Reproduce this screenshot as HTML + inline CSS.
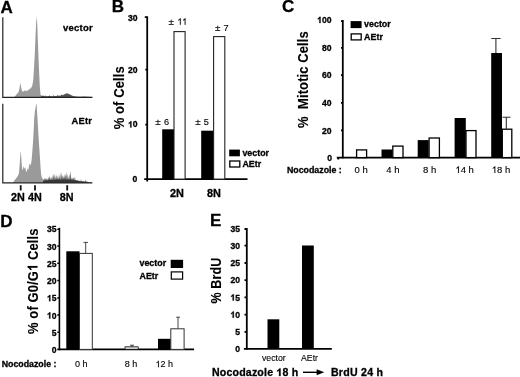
<!DOCTYPE html>
<html><head><meta charset="utf-8">
<style>
html,body{margin:0;padding:0;background:#fff;}
text{stroke:#000;stroke-width:0.3px;fill:#000;}
body{width:520px;height:377px;overflow:hidden;}
svg{display:block;font-family:"Liberation Sans",sans-serif;filter:blur(0.35px);}
.b{font-weight:bold;}
.h{fill:none;stroke:none;}
.pl{font-weight:bold;font-size:17px;}
.ax{font-weight:bold;font-size:8.6px;}
.yl{font-weight:bold;font-size:13px;stroke-width:0.1px;letter-spacing:0.1px;}
.lg{font-weight:bold;font-size:8.9px;}
.r{font-size:9px;}
.r text,.rr text{stroke-width:0.12px;}
</style></head><body>
<svg width="520" height="377" viewBox="0 0 520 377">
<rect width="520" height="377" fill="#fff"></rect>

<!-- Panel A -->
<text class="pl" x="0.5" y="12.5">A</text>
<path d="M14.0,97.3 L14.0,97.3 L15.5,95.8 L17.0,93.7 L18.5,92.2 L19.5,88.6 L20.3,82.5 L21.0,86.6 L22.0,91.2 L23.5,91.5 L25.0,90.4 L27.0,90.9 L29.0,89.4 L31.0,88.1 L32.2,86.0 L33.2,80.4 L34.0,68.2 L34.8,53.8 L35.5,36.4 L36.1,23.2 L36.7,16.3 L37.3,25.2 L37.9,41.6 L38.5,57.9 L39.2,74.3 L39.9,87.6 L40.4,93.7 L41.0,95.4 L43.5,95.8 L43.5,97.3 Z" fill="#9a9a9a"></path>
<path d="M41.0,97.3 L41.0,96.0 L43.5,95.8 L45.0,96.2 L45.6,95.3 L46.2,96.2 L49.0,96.1 L49.6,95.2 L50.2,96.1 L53.0,96.2 L53.6,95.0 L54.2,96.1 L57.0,96.0 L57.6,94.7 L58.2,95.8 L61.0,95.6 L61.6,94.3 L62.4,95.3 L63.5,94.7 L65.0,94.0 L67.0,93.3 L69.0,93.9 L71.0,95.0 L73.0,96.0 L76.0,96.4 L80.0,96.7 L84.0,96.5 L88.0,96.7 L92.0,97.0 L92.0,97.3 Z" fill="#555"></path>
<path d="M2.8,17.2 V97.4 H92.5" fill="none" stroke="#222" stroke-width="1.2"></path>
<text class="b" x="63.1" y="30.6" font-size="9.5" style="letter-spacing:0.2px">vector</text>
<path d="M13.0,182.7 L13.0,182.7 L14.5,180.2 L16.0,178.6 L17.5,176.6 L18.8,174.1 L19.6,165.9 L20.3,155.8 L20.8,150.7 L21.3,157.8 L22.0,168.0 L22.8,170.5 L23.6,165.9 L24.4,169.0 L25.2,167.0 L26.0,171.0 L26.8,172.0 L27.6,168.0 L28.4,170.0 L29.2,164.9 L30.0,162.9 L30.8,165.9 L31.6,159.9 L32.3,151.7 L33.0,142.6 L33.7,129.4 L34.3,117.2 L34.9,111.1 L35.4,109.1 L35.9,105.0 L36.3,103.2 L36.8,107.1 L37.4,117.2 L38.0,127.4 L38.6,137.5 L39.2,146.7 L39.9,156.8 L40.6,168.0 L41.2,175.1 L42.0,178.1 L43.5,179.7 L43.5,182.7 Z" fill="#9a9a9a"></path>
<path d="M43.5,182.7 L43.5,179.7 L44.2,178.0 L44.9,180.0 L45.6,178.0 L46.2,180.3 L46.9,177.9 L47.7,180.3 L48.3,177.0 L49.0,179.7 L49.6,175.6 L50.3,179.8 L51.1,176.9 L51.6,179.9 L52.1,174.6 L52.7,180.3 L53.4,173.8 L54.1,179.4 L54.9,173.6 L55.6,179.8 L56.2,174.6 L57.0,179.4 L57.8,176.0 L58.3,180.0 L58.9,175.1 L59.5,178.9 L60.1,172.2 L60.9,180.4 L61.5,172.3 L62.1,178.6 L62.8,175.0 L63.5,179.0 L64.1,174.1 L64.7,178.3 L65.5,173.9 L66.1,180.1 L66.6,171.3 L67.1,179.2 L67.8,173.7 L68.5,180.1 L69.3,173.9 L69.9,179.9 L70.5,170.6 L71.3,179.7 L72.1,177.2 L72.7,179.7 L73.5,177.3 L74.3,180.2 L74.9,176.4 L75.5,180.1 L77.0,180.2 L80.6,181.0 L81.0,178.9 L81.4,181.1 L85.2,181.4 L85.6,179.0 L86.0,181.5 L88.0,181.8 L88.0,182.7 Z" fill="#6a6a6a"></path>
<path d="M43.0,182.7 L43.0,180.8 L46.0,180.4 L50.0,180.1 L55.0,179.8 L60.0,179.6 L65.0,179.4 L70.0,179.6 L74.0,180.2 L77.0,180.8 L80.0,181.4 L84.0,181.7 L88.0,182.0 L92.5,182.4 L92.5,182.7 Z" fill="#383838"></path>
<path d="M2.8,103.8 V182.8 H92.3" fill="none" stroke="#222" stroke-width="1.2"></path>
<text class="b" x="71.4" y="124.4" font-size="9.3" style="letter-spacing:0.3px">AEtr</text>
<g stroke="#111" stroke-width="1.8">
<line x1="20.7" y1="185.2" x2="20.7" y2="190.5"></line>
<line x1="35" y1="185.2" x2="35" y2="190.5"></line>
<line x1="67.2" y1="185.2" x2="67.2" y2="190.5"></line>
</g>
<text class="b" font-size="10.8" x="10.9" y="200.8">2N</text>
<text class="b" font-size="10.8" x="28.1" y="200.8">4N</text>
<text class="b" font-size="10.8" x="59.8" y="200.8">8N</text>

<!-- Panel B -->
<text class="pl" x="111.7" y="12.4">B</text>
<text class="yl" transform="translate(123.5,129.3) rotate(-90) scale(1,1.08)">% of Cells</text>
<g class="ax" text-anchor="end">
<text x="137.6" y="21">30</text>
<text x="137.6" y="73.2">20</text>
<text x="137.6" y="127.4"><tspan class="h">1</tspan>0</text><path d="M806 0H525V1059Q371 915 162 846V1101Q272 1137 401 1237.5T578 1472H806Z" transform="translate(128.04,127.40) scale(0.00420,-0.00420)" fill="#000" stroke="#000" stroke-width="71"></path>
<text x="137.4" y="182.2">0</text>
</g>
<g stroke="#000" stroke-width="1.8" fill="none">
<path d="M147.2,16.3 V181.5"></path>
<path d="M144.2,179.1 H247.5"></path>
<path d="M144.8,17.2 H147 M145.3,69.7 H147 M145.3,124.7 H147"></path>
</g>
<rect x="162.2" y="129.3" width="12" height="50" fill="#000"></rect>
<rect x="174" y="31.6" width="11.1" height="147.5" fill="#fff" stroke="#222" stroke-width="1.1"></rect>
<rect x="201.2" y="130.7" width="12.5" height="48.5" fill="#000"></rect>
<rect x="213.6" y="36.6" width="11.2" height="142.5" fill="#fff" stroke="#222" stroke-width="1.1"></rect>
<g class="r" style="font-size:9.2px;letter-spacing:0.35px">
<text x="155.3" y="124.5"><tspan font-size="9.9">±</tspan> 6</text>
<text x="195.2" y="124.5"><tspan font-size="9.9">±</tspan> 5</text>
<text x="168.6" y="24.8"><tspan font-size="9.9">±</tspan> <tspan class="h">1</tspan><tspan class="h">1</tspan></text><path d="M763 0H583V1147Q518 1085 412.5 1023T223 930V1104Q373 1174.5 485 1275T644 1469H763Z" transform="translate(177.27,24.80) scale(0.00449,-0.00449)" fill="#000" stroke="#000" stroke-width="27"></path><path d="M763 0H583V1147Q518 1085 412.5 1023T223 930V1104Q373 1174.5 485 1275T644 1469H763Z" transform="translate(182.05,24.80) scale(0.00449,-0.00449)" fill="#000" stroke="#000" stroke-width="27"></path>
<text x="214.9" y="31.4"><tspan font-size="9.9">±</tspan> 7</text>
</g>
<text class="b" font-size="10.9" x="169.9" y="197">2N</text>
<text class="b" font-size="10.9" x="206.9" y="197">8N</text>
<rect x="229.2" y="149.6" width="10.7" height="6.7" fill="#000"></rect>
<rect x="229.8" y="161" width="10" height="6" fill="#fff" stroke="#000" stroke-width="1.3"></rect>
<text class="lg" x="242.4" y="156">vector</text>
<text class="lg" x="242.4" y="167.4">AEtr</text>

<!-- Panel C -->
<text class="pl" x="281.9" y="12.2">C</text>
<text class="yl" transform="translate(307.9,128) rotate(-90) scale(1,1.08)">%&nbsp;&nbsp;Mitotic Cells</text>
<g class="ax" text-anchor="end" transform="translate(0,-0.5)">
<text x="331.5" y="23.5"><tspan class="h">1</tspan>00</text><path d="M806 0H525V1059Q371 915 162 846V1101Q272 1137 401 1237.5T578 1472H806Z" transform="translate(317.16,23.50) scale(0.00420,-0.00420)" fill="#000" stroke="#000" stroke-width="71"></path>
<text x="331.5" y="51.3">80</text>
<text x="331.5" y="78.3">60</text>
<text x="331.5" y="106.5">40</text>
<text x="331.5" y="134">20</text>
<text x="332" y="161.5">0</text>
</g>
<g stroke="#000" stroke-width="1.8" fill="none">
<path d="M342.8,20 V158.4"></path>
<path d="M336.8,157.6 H520"></path>
<path d="M341,21.2 H343 M341,47.9 H343 M341,75.2 H343 M341,102.8 H343 M341,130.3 H343 M338.3,157.6 V159.6"></path>
</g>
<rect x="350.6" y="21.1" width="11" height="7" fill="#000"></rect>
<rect x="351.2" y="33.9" width="10" height="6" fill="#fff" stroke="#000" stroke-width="1.3"></rect>
<text class="lg" x="364.1" y="27.4">vector</text>
<text class="lg" x="364.1" y="39.9">AEtr</text>
<g stroke="#000" stroke-width="1.3">
<rect x="356.6" y="149.9" width="10" height="7.7" fill="#fff"></rect>
<rect x="381.5" y="149.5" width="11" height="8.1" fill="#000" stroke="none"></rect>
<rect x="392.8" y="146.1" width="10.2" height="11.5" fill="#fff"></rect>
<rect x="417.7" y="140.1" width="11" height="17.5" fill="#000" stroke="none"></rect>
<rect x="429.1" y="138" width="10.3" height="19.6" fill="#fff"></rect>
<rect x="454.6" y="118" width="11.2" height="39.6" fill="#000" stroke="none"></rect>
<rect x="466" y="130.6" width="10" height="27" fill="#fff"></rect>
<rect x="491.2" y="53" width="10.8" height="104.6" fill="#000" stroke="none"></rect>
<rect x="502.3" y="129.2" width="9.5" height="28.4" fill="#fff"></rect>
</g>
<g stroke="#333" stroke-width="1.1" fill="none">
<path d="M495.9,53 V38.5 M491.3,38.5 H500.6"></path>
<path d="M506.3,129 V117.2 M502.5,117.2 H510.5"></path>
</g>
<text class="b" font-size="8.8" x="287" y="173">Nocodazole :</text>
<g class="r" text-anchor="middle" style="font-size:9.5px">
<text x="361.2" y="173">0 h</text>
<text x="392.9" y="173">4 h</text>
<text x="429.6" y="173">8 h</text>
<text x="464.6" y="173"><tspan class="h">1</tspan>4 h</text><path d="M763 0H583V1147Q518 1085 412.5 1023T223 930V1104Q373 1174.5 485 1275T644 1469H763Z" transform="translate(455.35,173.00) scale(0.00464,-0.00464)" fill="#000" stroke="#000" stroke-width="26"></path>
<text x="501" y="173"><tspan class="h">1</tspan>8 h</text><path d="M763 0H583V1147Q518 1085 412.5 1023T223 930V1104Q373 1174.5 485 1275T644 1469H763Z" transform="translate(491.75,173.00) scale(0.00464,-0.00464)" fill="#000" stroke="#000" stroke-width="26"></path>
</g>

<!-- Panel D -->
<text class="pl" x="0.3" y="226.6" font-size="17.4">D</text>
<text class="yl" transform="translate(37.5,334) rotate(-90) scale(1,1.06)">% of G0/G<tspan class="h">1</tspan> Cells</text><path d="M806 0H525V1059Q371 915 162 846V1101Q272 1137 401 1237.5T578 1472H806Z" transform="translate(37.5,334) rotate(-90) scale(1,1.06) translate(62.91,0.00) scale(0.00635,-0.00635)" fill="#000" stroke="#000" stroke-width="16"></path>
<g class="ax" text-anchor="end" transform="translate(0,-0.5)">
<text x="56.5" y="232.3">35</text>
<text x="56.5" y="250">30</text>
<text x="56.5" y="267.3">25</text>
<text x="56.5" y="284.5">20</text>
<text x="56.5" y="301.7"><tspan class="h">1</tspan>5</text><path d="M806 0H525V1059Q371 915 162 846V1101Q272 1137 401 1237.5T578 1472H806Z" transform="translate(46.94,301.70) scale(0.00420,-0.00420)" fill="#000" stroke="#000" stroke-width="71"></path>
<text x="56.5" y="319"><tspan class="h">1</tspan>0</text><path d="M806 0H525V1059Q371 915 162 846V1101Q272 1137 401 1237.5T578 1472H806Z" transform="translate(46.94,319.00) scale(0.00420,-0.00420)" fill="#000" stroke="#000" stroke-width="71"></path>
<text x="56.5" y="336">5</text>
<text x="56.5" y="353.3">0</text>
</g>
<g stroke="#000" stroke-width="1.6" fill="none">
<path d="M59.4,227.8 V350.2"></path>
<path d="M57.3,349.4 H194"></path>
<path d="M57.3,229.2 H60 M57.3,246 H60 M57.3,263.2 H60 M57.3,280.5 H60 M57.3,298 H60 M57.3,315 H60 M57.3,332.3 H60"></path>
</g>
<rect x="66.3" y="251.3" width="13.2" height="98" fill="#000"></rect>
<rect x="79.5" y="253.4" width="12.8" height="96" fill="#fff" stroke="#333" stroke-width="1"></rect>
<path d="M85.7,253 V242.4 M83.5,242.4 H88" stroke="#333" stroke-width="0.9" fill="none"></path>
<rect x="125" y="346.8" width="13.2" height="2.6" fill="#ccc" stroke="#000" stroke-width="0.7"></rect>
<path d="M132,346.8 V345.2 M130,345.2 H134" stroke="#000" stroke-width="0.7" fill="none"></path>
<rect x="158" y="338.8" width="12.8" height="10.6" fill="#000"></rect>
<rect x="170.8" y="328.8" width="13.3" height="20.6" fill="#fff" stroke="#333" stroke-width="1"></rect>
<path d="M178,328.5 V317.2 M176.2,317.2 H180" stroke="#333" stroke-width="0.9" fill="none"></path>
<text class="lg" x="139.5" y="266.4">vector</text>
<text class="lg" x="139.5" y="278.8">AEtr</text>
<rect x="170.7" y="259.8" width="12.4" height="8.2" fill="#000"></rect>
<rect x="171.3" y="271.9" width="11.3" height="7.2" fill="#fff" stroke="#000" stroke-width="1.2"></rect>
<text class="b" font-size="8.8" x="1.7" y="367.1">Nocodazole :</text>
<g class="r" text-anchor="middle">
<text x="81.3" y="367.3">0 h</text>
<text x="131" y="367.3">8 h</text>
<text x="164.2" y="367.3"><tspan class="h">1</tspan>2 h</text><path d="M763 0H583V1147Q518 1085 412.5 1023T223 930V1104Q373 1174.5 485 1275T644 1469H763Z" transform="translate(155.43,367.30) scale(0.00439,-0.00439)" fill="#000" stroke="#000" stroke-width="27"></path>
</g>

<!-- Panel E -->
<text class="pl" x="210.1" y="226.4" font-size="17.4">E</text>
<text class="yl" transform="translate(221.4,303.5) rotate(-90) scale(0.965,1.09)">% BrdU</text>
<g class="ax" text-anchor="end" transform="translate(0,-0.5)">
<text x="240" y="232.8">35</text>
<text x="240" y="249.3">30</text>
<text x="240" y="266.5">25</text>
<text x="240" y="283.7">20</text>
<text x="240" y="301"><tspan class="h">1</tspan>5</text><path d="M806 0H525V1059Q371 915 162 846V1101Q272 1137 401 1237.5T578 1472H806Z" transform="translate(230.44,301.00) scale(0.00420,-0.00420)" fill="#000" stroke="#000" stroke-width="71"></path>
<text x="240" y="318.3"><tspan class="h">1</tspan>0</text><path d="M806 0H525V1059Q371 915 162 846V1101Q272 1137 401 1237.5T578 1472H806Z" transform="translate(230.44,318.30) scale(0.00420,-0.00420)" fill="#000" stroke="#000" stroke-width="71"></path>
<text x="240" y="335.3">5</text>
<text x="240" y="352.3">0</text>
</g>
<g stroke="#000" stroke-width="1.8" fill="none">
<path d="M246.8,228 V349.7"></path>
<path d="M243.9,348.8 H331.8"></path>
<path d="M244.5,229 H247 M244.5,245.7 H247 M244.5,263 H247 M244.5,280.2 H247 M244.5,297.3 H247 M244.5,314.7 H247 M244.5,331.8 H247"></path>
</g>
<rect x="267.5" y="319.3" width="11.8" height="29.5" fill="#000"></rect>
<rect x="302" y="245.5" width="11.8" height="103.3" fill="#000"></rect>
<g class="rr" font-size="8.7" text-anchor="middle">
<text x="273.8" y="361.3">vector</text>
<text x="309.5" y="361.3">AEtr</text>
</g>
<text class="b" font-size="10.6" x="211.9" y="376" style="letter-spacing:0.19px">Nocodazole <tspan class="h">1</tspan>8 h</text><path d="M806 0H525V1059Q371 915 162 846V1101Q272 1137 401 1237.5T578 1472H806Z" transform="translate(276.37,376.00) scale(0.00518,-0.00518)" fill="#000" stroke="#000" stroke-width="58"></path>
<path d="M303,372.3 H319" stroke="#000" stroke-width="1.4" fill="none"></path>
<path d="M324.3,372.3 L316.6,369.3 L316.6,375.3 Z" fill="#000"></path>
<text class="b" font-size="10.6" x="330.9" y="376" style="letter-spacing:0.27px">BrdU 24 h</text>
</svg>

</body></html>
